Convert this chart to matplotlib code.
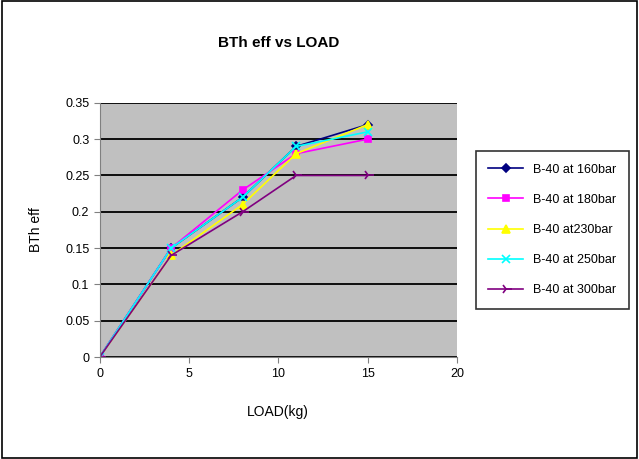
import matplotlib
matplotlib.use("Agg")
import matplotlib.pyplot as plt
from matplotlib.patches import Rectangle

load = [0, 4, 8, 11, 15]
s160 = [0, 0.15, 0.22, 0.29, 0.32]
s180 = [0, 0.15, 0.23, 0.28, 0.30]
s230 = [0, 0.14, 0.21, 0.28, 0.32]
s250 = [0, 0.15, 0.22, 0.29, 0.31]
s300 = [0, 0.14, 0.20, 0.25, 0.25]
labels = ["B-40 at 160bar", "B-40 at 180bar", "B-40 at230bar", "B-40 at 250bar", "B-40 at 300bar"]
xticks = [0, 5, 10, 15, 20]
yticks = [0, 0.05, 0.1, 0.15, 0.2, 0.25, 0.3, 0.35]

plt.rcParams['font.family'] = ['Liberation Sans', 'DejaVu Sans']
fig = plt.figure(figsize=(6.39, 4.59), dpi=100)
fig.patches.append(Rectangle((0.003, 0.003), 0.994, 0.994, transform=fig.transFigure,
                             fill=False, edgecolor='black', linewidth=1.2))
ax = fig.add_axes([0.156, 0.222, 0.559, 0.554])
ax.set_facecolor('#c0c0c0')

styles = [
    (s160, '#000080', 'D', 4),
    (s180, '#ff00ff', 's', 5),
    (s230, '#ffff00', '^', 6),
    (s250, '#00ffff', 'x', 6),
    (s300, '#800080', '4', 8),
]
for (vals, c, m, ms), lab in zip(styles, labels):
    ax.plot(load, vals, color=c, marker=m, markersize=ms, linewidth=1.2, label=lab,
            markeredgewidth=1.2)

ax.set_xlim(0, 20)
ax.set_ylim(0, 0.35)
ax.set_xticks(xticks)
ax.set_yticks(yticks)
ax.set_yticklabels(['0', '0.05', '0.1', '0.15', '0.2', '0.25', '0.3', '0.35'])
ax.yaxis.grid(True, color='black', linewidth=1.3)
ax.set_axisbelow(True)
for s in ['top', 'right']:
    ax.spines[s].set_visible(False)
ax.spines['left'].set_color('#808080')
ax.spines['bottom'].set_color('#808080')
ax.tick_params(labelsize=9, length=4, color='#808080')
ax.set_title('BTh eff vs LOAD', fontsize=11, pad=40, fontweight='bold')
ax.set_xlabel('LOAD(kg)', fontsize=10, labelpad=18)
ax.set_ylabel('BTh eff', fontsize=10, labelpad=16)

leg = ax.legend(loc='center left', bbox_to_anchor=(1.035, 0.5), fontsize=9,
                frameon=True, fancybox=False, edgecolor='black', labelspacing=1.45,
                handlelength=2.8, borderpad=1.0)
leg.get_frame().set_linewidth(1.2)

fig.savefig('out.png', dpi=100)
